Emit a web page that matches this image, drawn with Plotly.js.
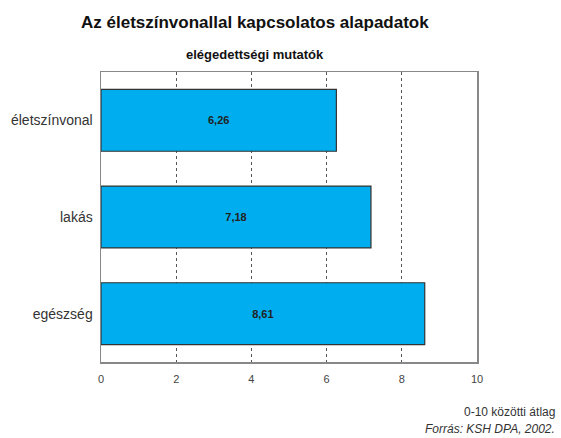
<!DOCTYPE html>
<html><head><meta charset="utf-8">
<script src="https://cdn.plot.ly/plotly-3.0.1.min.js"></script>
<style>body{margin:0;background:#fff}#c{width:561px;height:438px}</style>
</head><body><div id="c"></div>
<script>
const categories = ['életszínvonal', 'lakás', 'egészség'];
const values = [6.26, 7.18, 8.61];
const tickVals = [0, 2, 4, 6, 8, 10];

const F = '"Liberation Sans Narrow", "Arial Narrow", "Liberation Sans", Arial, sans-serif';

Plotly.newPlot('c', [{
  type: 'bar', orientation: 'h',
  y: categories, x: values,
  marker: {color: '#00AEEF', line: {color: '#333333', width: 1.2}},
  texttemplate: '<b>%{x:.2f}</b>', textposition: 'inside', insidetextanchor: 'middle',
  textfont: {family: F, size: 11, color: '#222'},
  hoverinfo: 'none'
}], {
  width: 561, height: 438,
  separators: ', ',
  margin: {l: 101, r: 84, t: 72, b: 76},
  paper_bgcolor: '#fff', plot_bgcolor: '#fff',
  bargap: 0.36,
  showlegend: false,
  font: {family: F, color: '#333'},
  xaxis: {range: [0, 10], tickvals: tickVals, ticks: '', showgrid: true,
    gridcolor: '#555', griddash: '3px,3px', gridwidth: 1,
    showline: true, linecolor: '#888', linewidth: 1.5, mirror: true, zeroline: false,
    tickfont: {size: 11, color: '#444', family: F}, ticklabelstandoff: 6},
  yaxis: {autorange: 'reversed', showline: true, linecolor: '#888', linewidth: 1.5, mirror: true,
    ticks: '', tickfont: {size: 14, color: '#333', family: F}, ticklabelstandoff: 4},
  annotations: [
    {text: '<b>Az életszínvonallal kapcsolatos alapadatok</b>', xref: 'paper', yref: 'paper', x: 0.41, y: 1, yshift: 61, showarrow: false, font: {family: F, size: 17, color: '#111'}, xanchor: 'center'},
    {text: '<b>elégedettségi mutatók</b>', xref: 'paper', yref: 'paper', x: 0.41, y: 1, yshift: 27, showarrow: false, font: {family: F, size: 13, color: '#111'}, xanchor: 'center'},
    {text: '0-10 közötti átlag', xref: 'paper', yref: 'paper', x: 1, xshift: 80, y: 0, yshift: -59, showarrow: false, xanchor: 'right', font: {family: F, size: 12, color: '#333'}},
    {text: '<i>Forrás: KSH DPA, 2002.</i>', xref: 'paper', yref: 'paper', x: 1, xshift: 80, y: 0, yshift: -76, showarrow: false, xanchor: 'right', font: {family: F, size: 12, color: '#333'}}
  ]
}, {displayModeBar: false, staticPlot: true});
</script></body></html>
